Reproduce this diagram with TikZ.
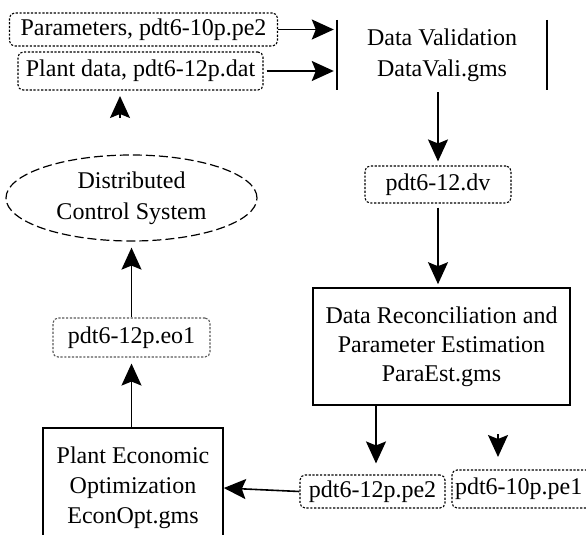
\documentclass[tikz,border=0pt]{standalone}
\usepackage{fontspec}
\setmainfont{Liberation Serif}
\usetikzlibrary{arrows.meta,shapes.geometric}

\tikzset{
  txt/.style={font=\fontsize{24}{31}\selectfont, align=center, inner sep=0pt},
  filebox/.style={txt, draw, line width=1.1pt, dash pattern=on 2.2pt off 1.6pt,
                  rounded corners=5pt},
  progbox/.style={txt, draw, line width=1.6pt},
  dcsnode/.style={txt, draw, ellipse, line width=1.2pt, dash pattern=on 9pt off 4pt},
  headtip/.tip={Stealth[length=22pt,width=20pt,inset=4pt]},
  flow/.style={line width=1.6pt, -headtip},
}

\begin{document}
\begin{tikzpicture}[x=1pt,y=-1pt]
  \useasboundingbox (0,0) rectangle (586,535);
  \begin{scope}
  \clip (0,0) rectangle (586,535);

  % input files
  \node[filebox, minimum width=268pt, minimum height=33pt] (par) at (143.5,29.5)
    {Parameters, pdt6-10p.pe2};
  \node[filebox, minimum width=245pt, minimum height=38pt] (plant) at (140.5,71)
    {Plant data, pdt6-12p.dat};

  % data validation step (side bars only)
  \node[txt, minimum width=210pt, minimum height=70pt] (dval) at (442,55)
    {Data Validation\\DataVali.gms};
  \draw[line width=1.6pt] (dval.north west) -- (dval.south west);
  \draw[line width=1.6pt] (dval.north east) -- (dval.south east);

  \node[filebox, minimum width=146pt, minimum height=37pt] (dvfile) at (438,184.5)
    {pdt6-12.dv};

  % reconciliation and parameter estimation
  \node[progbox, minimum width=257pt, minimum height=117pt,
        font=\fontsize{24}{29}\selectfont] (para) at (441.5,346.5)
    {Data Reconciliation and\\Parameter Estimation\\ParaEst.gms};

  \node[filebox, minimum width=145pt, minimum height=33pt] (pe2) at (372.5,491.5)
    {pdt6-12p.pe2};
  \node[filebox, minimum width=140pt, minimum height=38pt, text width=134pt,
        align=left] (pe1) at (522,489)
    {pdt6-10p.pe1};

  % economic optimization
  \node[progbox, minimum width=180pt, minimum height=120pt,
        font=\fontsize{24}{30}\selectfont] (econ) at (133,488)
    {Plant Economic\\Optimization\\EconOpt.gms};

  \node[filebox, draw=black!65, minimum width=157pt, minimum height=39pt] (eo1)
    at (131.5,337.5) {pdt6-12p.eo1};

  \node[dcsnode, minimum width=251pt, minimum height=86pt] (dcs) at (131.5,198)
    {Distributed\\Control System};

  % loose arrow heads
  \coordinate (upA) at (120,118);
  \coordinate (upB) at (120,96);
  \coordinate (dnA) at (498,434);
  \coordinate (dnB) at (498,457);

  % connectors
  \draw[flow, shorten >=3pt] (par.east) -- (par.east -| dval.west);
  \draw[flow, shorten >=3pt] ([xshift=3pt]plant.east) -- (plant.east -| dval.west);
  \draw[flow, shorten <=2pt, shorten >=4pt] (dvfile.north |- dval.south) -- (dvfile.north);
  \draw[flow, shorten <=4pt, shorten >=3pt] (dvfile.south) -- (dvfile.south |- para.north);
  \draw[flow, shorten >=11pt] ([xshift=3.5pt]pe2.north |- para.south) -- ([xshift=3.5pt]pe2.north);
  \draw[flow] (pe2.west) -- (econ.east);
  \draw[flow, shorten >=6pt] (econ.north -| eo1.south) -- (eo1.south);
  \draw[flow, shorten >=6pt] (eo1.north) -- (dcs.south);
  \draw[flow] (upA) -- (upB);
  \draw[flow] (dnA) -- (dnB);
  \end{scope}
\end{tikzpicture}
\end{document}
